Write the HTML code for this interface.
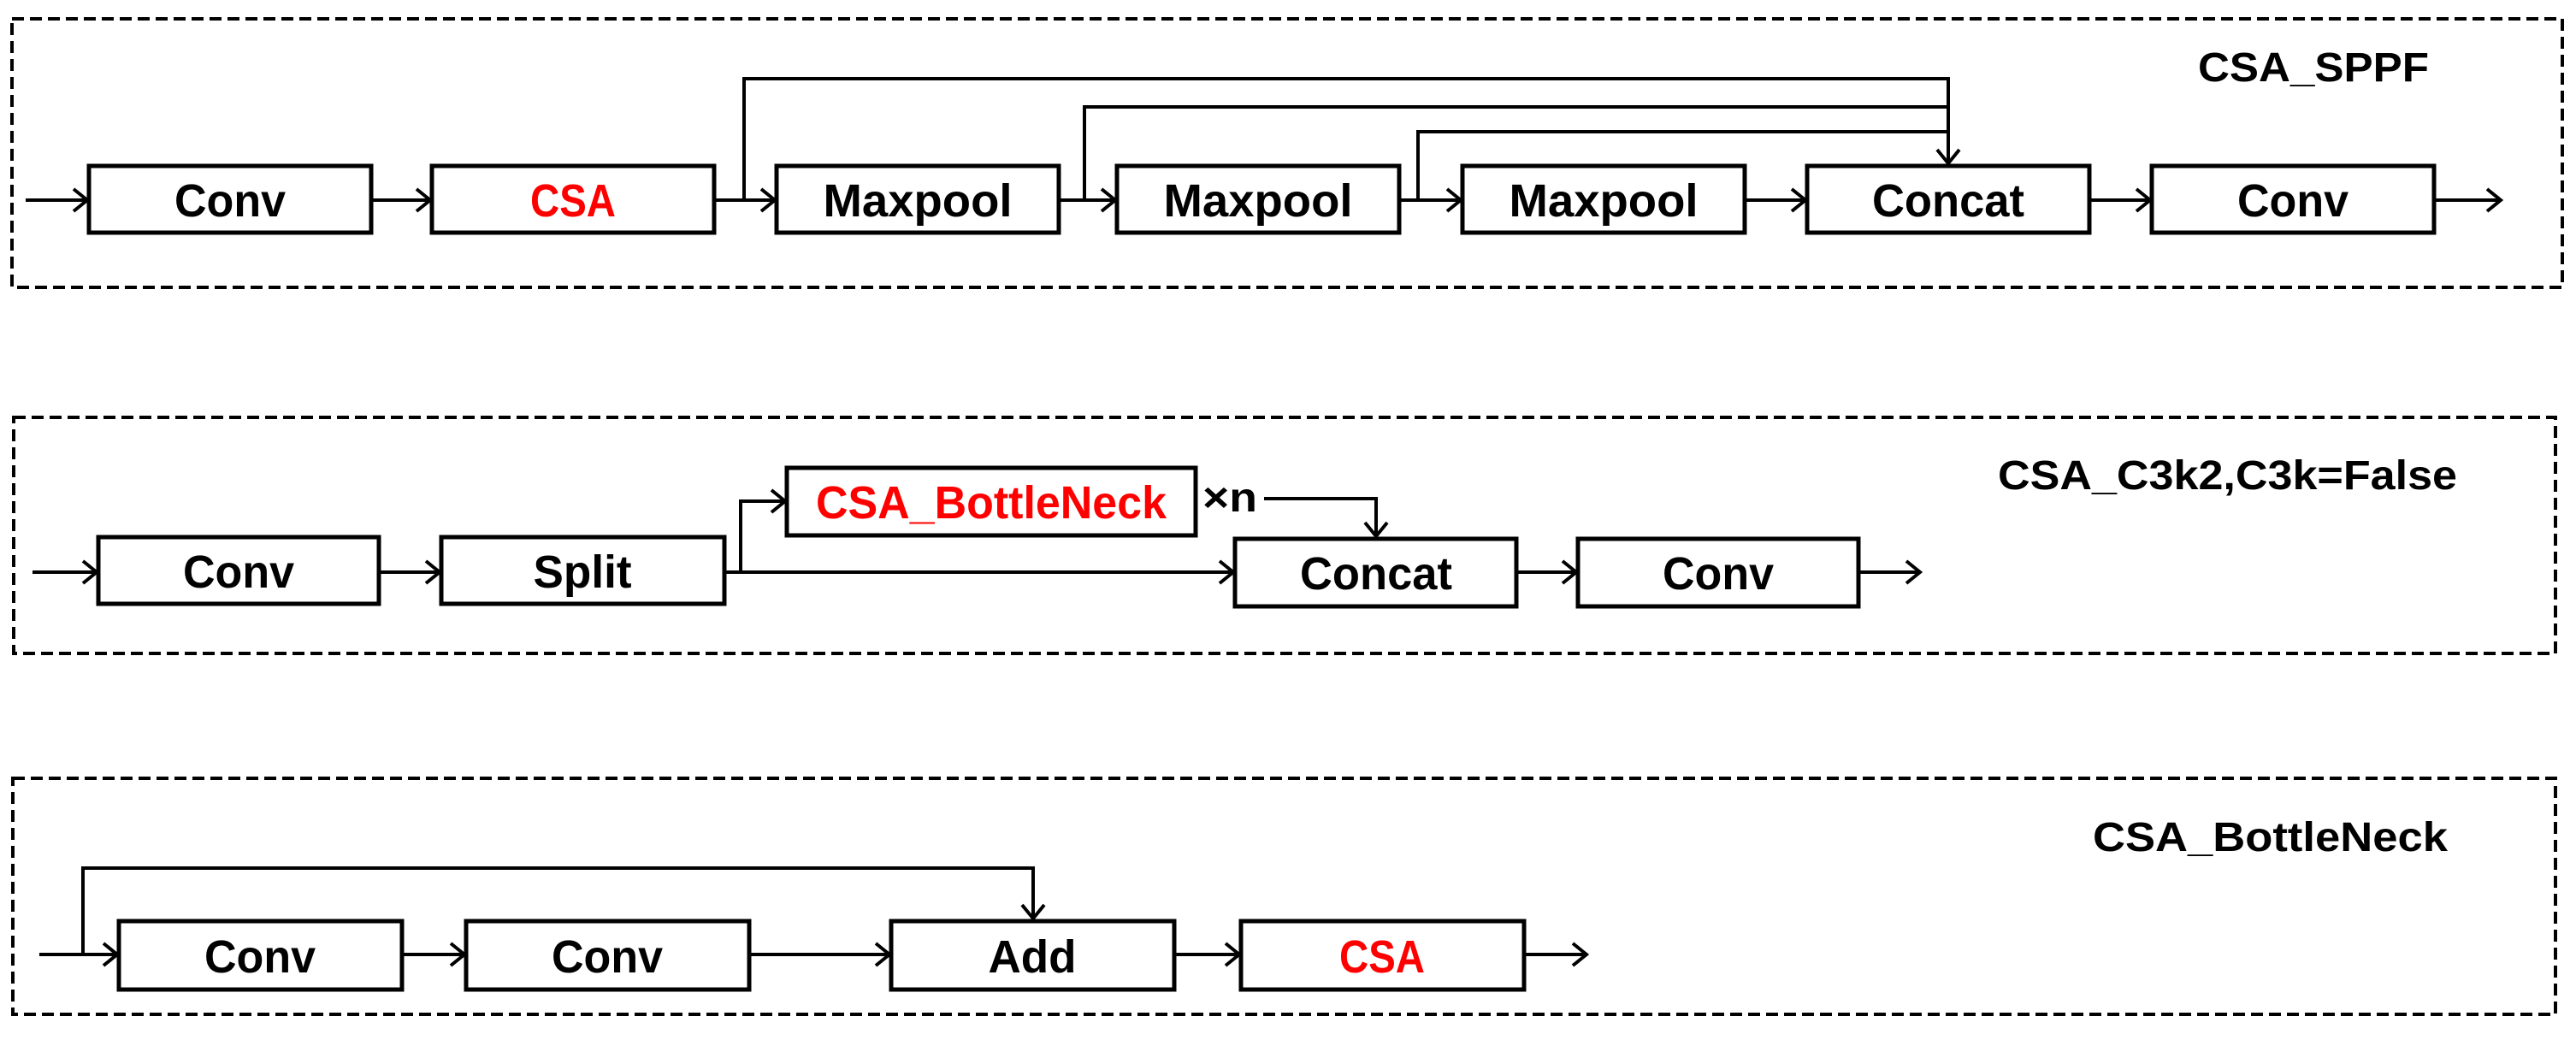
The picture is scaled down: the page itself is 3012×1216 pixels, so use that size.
<!DOCTYPE html>
<html><head><meta charset="utf-8"><style>
html,body{margin:0;padding:0;background:#fff;}
svg{display:block;}
text{font-family:"Liberation Sans",sans-serif;font-weight:bold;}
</style></head><body>
<svg width="3012" height="1216" viewBox="0 0 3012 1216" xmlns="http://www.w3.org/2000/svg">
<defs>
<marker id="a" markerWidth="24" markerHeight="32" refX="20" refY="16" orient="auto" markerUnits="userSpaceOnUse">
<path d="M4,3 L20,16 L4,29" fill="none" stroke="#000" stroke-width="4"/>
</marker>
</defs>
<g fill="none" stroke="#000" stroke-width="4" stroke-dasharray="14,7">
<rect x="14" y="22" width="2982" height="314"/>
<rect x="16" y="488" width="2972" height="276"/>
<rect x="15" y="910" width="2973" height="276"/>
</g>
<g fill="#fff" stroke="#000" stroke-width="5">
<rect x="104" y="194" width="330" height="78"/>
<rect x="505" y="194" width="330" height="78"/>
<rect x="908" y="194" width="330" height="78"/>
<rect x="1306" y="194" width="330" height="78"/>
<rect x="1710" y="194" width="330" height="78"/>
<rect x="2113" y="194" width="330" height="78"/>
<rect x="2516" y="194" width="330" height="78"/>
<rect x="115" y="628" width="328" height="78"/>
<rect x="516" y="628" width="331" height="78"/>
<rect x="920" y="547" width="478" height="79"/>
<rect x="1444" y="630" width="329" height="79"/>
<rect x="1845" y="630" width="328" height="79"/>
<rect x="139" y="1077" width="331" height="80"/>
<rect x="545" y="1077" width="331" height="80"/>
<rect x="1042" y="1077" width="331" height="80"/>
<rect x="1451" y="1077" width="331" height="80"/>
</g>
<g fill="none" stroke="#000" stroke-width="4">
<line x1="30" y1="234" x2="102" y2="234" marker-end="url(#a)"/>
<line x1="436" y1="234" x2="503" y2="234" marker-end="url(#a)"/>
<line x1="837" y1="234" x2="906" y2="234" marker-end="url(#a)"/>
<line x1="1240" y1="234" x2="1304" y2="234" marker-end="url(#a)"/>
<line x1="1638" y1="234" x2="1708" y2="234" marker-end="url(#a)"/>
<line x1="2042" y1="234" x2="2111" y2="234" marker-end="url(#a)"/>
<line x1="2445" y1="234" x2="2514" y2="234" marker-end="url(#a)"/>
<line x1="2848" y1="234" x2="2924" y2="234" marker-end="url(#a)"/>
<polyline points="870,234 870,92 2278,92 2278,191" marker-end="url(#a)"/>
<polyline points="1268,234 1268,125 2278,125"/>
<polyline points="1658,234 1658,154 2278,154"/>
<line x1="38" y1="669" x2="113" y2="669" marker-end="url(#a)"/>
<line x1="445" y1="669" x2="514" y2="669" marker-end="url(#a)"/>
<line x1="849" y1="669" x2="1442" y2="669" marker-end="url(#a)"/>
<polyline points="866,669 866,586 918,586" marker-end="url(#a)"/>
<polyline points="1478,583 1609,583 1609,627" marker-end="url(#a)"/>
<line x1="1775" y1="669" x2="1843" y2="669" marker-end="url(#a)"/>
<line x1="2175" y1="669" x2="2245" y2="669" marker-end="url(#a)"/>
<line x1="46" y1="1116" x2="137" y2="1116" marker-end="url(#a)"/>
<line x1="472" y1="1116" x2="543" y2="1116" marker-end="url(#a)"/>
<line x1="878" y1="1116" x2="1040" y2="1116" marker-end="url(#a)"/>
<line x1="1375" y1="1116" x2="1449" y2="1116" marker-end="url(#a)"/>
<line x1="1784" y1="1116" x2="1855" y2="1116" marker-end="url(#a)"/>
<polyline points="97,1116 97,1015 1208,1015 1208,1074" marker-end="url(#a)"/>
</g>
<g font-size="54" text-anchor="middle" fill="#000">
<text x="269" y="253" textLength="130" lengthAdjust="spacingAndGlyphs">Conv</text>
<text x="670" y="253" fill="#ff0000" textLength="100" lengthAdjust="spacingAndGlyphs">CSA</text>
<text x="1073" y="253" textLength="221" lengthAdjust="spacingAndGlyphs">Maxpool</text>
<text x="1471" y="253" textLength="221" lengthAdjust="spacingAndGlyphs">Maxpool</text>
<text x="1875" y="253" textLength="221" lengthAdjust="spacingAndGlyphs">Maxpool</text>
<text x="2278" y="253" textLength="178" lengthAdjust="spacingAndGlyphs">Concat</text>
<text x="2681" y="253" textLength="130" lengthAdjust="spacingAndGlyphs">Conv</text>
<text x="279" y="687" textLength="130" lengthAdjust="spacingAndGlyphs">Conv</text>
<text x="681" y="687" textLength="115" lengthAdjust="spacingAndGlyphs">Split</text>
<text x="1159" y="606" fill="#ff0000" textLength="410" lengthAdjust="spacingAndGlyphs">CSA_BottleNeck</text>
<text x="1438" y="598" font-size="48" textLength="64" lengthAdjust="spacingAndGlyphs">×n</text>
<text x="1609" y="689" textLength="178" lengthAdjust="spacingAndGlyphs">Concat</text>
<text x="2009" y="689" textLength="130" lengthAdjust="spacingAndGlyphs">Conv</text>
<text x="304" y="1137" textLength="130" lengthAdjust="spacingAndGlyphs">Conv</text>
<text x="710" y="1137" textLength="130" lengthAdjust="spacingAndGlyphs">Conv</text>
<text x="1207" y="1137" textLength="103" lengthAdjust="spacingAndGlyphs">Add</text>
<text x="1616" y="1137" fill="#ff0000" textLength="100" lengthAdjust="spacingAndGlyphs">CSA</text>
</g>
<g font-size="48" fill="#000">
<text x="2570" y="95" textLength="270" lengthAdjust="spacingAndGlyphs">CSA_SPPF</text>
<text x="2336" y="572" textLength="537" lengthAdjust="spacingAndGlyphs">CSA_C3k2,C3k=False</text>
<text x="2447" y="995" textLength="415" lengthAdjust="spacingAndGlyphs">CSA_BottleNeck</text>
</g>
</svg>
</body></html>
